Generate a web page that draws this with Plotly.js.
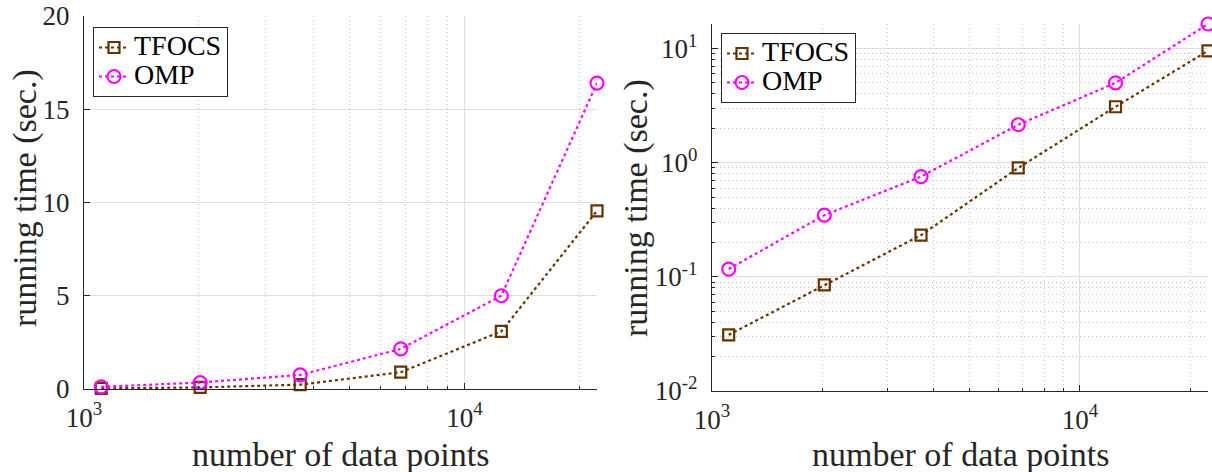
<!DOCTYPE html>
<html>
<head>
<meta charset="utf-8">
<script src="https://cdn.plot.ly/plotly-3.0.1.min.js"></script>
<style>html,body{margin:0;padding:0;background:#fff;}#chart{width:1212px;height:472px;}</style>
</head>
<body>
<div id="chart"></div>
<script>
// ---- data ----
const dataPoints = [1110, 2020, 3700, 6800, 12500, 22300];
const tfocsTime  = [0.031, 0.085, 0.232, 0.90, 3.09, 9.55];
const ompTime    = [0.117, 0.347, 0.755, 2.15, 5.0, 16.4];
const seriesNames = ['TFOCS', 'OMP'];

const xTickVals = [1000, 10000];
const xTickText = ['10<sup>3</sup>', '10<sup>4</sup>'];
const xMinorVals = [2000, 3000, 4000, 5000, 6000, 7000, 8000, 9000, 20000];
const yLinTickVals = [0, 5, 10, 15, 20];
const yLogTickVals = [0.01, 0.1, 1, 10];
const yLogTickText = ['10<sup>-2</sup>', '10<sup>-1</sup>', '10<sup>0</sup>', '10<sup>1</sup>'];
const yLogMinorVals = [0.02,0.03,0.04,0.05,0.06,0.07,0.08,0.09,0.2,0.3,0.4,0.5,0.6,0.7,0.8,0.9,2,3,4,5,6,7,8,9];
const xLabel = 'number of data points';
const yLabel = 'running time (sec.)';

// ---- styling ----
const W = 1212, H = 472;
const FONT = "'Liberation Serif', 'Times New Roman', serif";
const INK = '#262626';
const tfocsColor = '#663300';
const ompColor = '#ff00ff';
const px = v => v / W;
const py = v => 1 - v / H;
const legName = s => '<span style="font-size:28px">' + s + '</span>';

function mk(name, y, color, symbol, size, xa, ya, leg) {
  return {
    x: dataPoints, y: y, name: legName(name), type: 'scatter', mode: 'lines+markers',
    xaxis: xa, yaxis: ya, legend: leg, showlegend: true, cliponaxis: false,
    line: {color: color, width: 2.2, dash: 'dot'},
    marker: {symbol: symbol, size: size, color: color, line: {color: color, width: 2.2}}
  };
}

const traces = [
  mk(seriesNames[0], tfocsTime, tfocsColor, 'square-open', 11, 'x', 'y', 'legend'),
  mk(seriesNames[1], ompTime, ompColor, 'circle-open', 13, 'x', 'y', 'legend'),
  mk(seriesNames[0], tfocsTime, tfocsColor, 'square-open', 11, 'x2', 'y2', 'legend2'),
  mk(seriesNames[1], ompTime, ompColor, 'circle-open', 13, 'x2', 'y2', 'legend2')
];

const xmax = Math.log10(dataPoints[dataPoints.length - 1]);
const ymaxLog = Math.log10(Math.max.apply(null, ompTime));
const MINOR_GRID = '#c4c4c4';
const MAJOR_GRID = '#dedede';

function xAxis(domain, anchor) {
  return {
    type: 'log', domain: domain, anchor: anchor, range: [3, xmax],
    tickmode: 'array', tickvals: xTickVals, ticktext: xTickText,
    ticks: 'inside', ticklen: 6, tickwidth: 1, tickcolor: INK,
    showline: true, linecolor: INK, linewidth: 1.2, zeroline: false,
    showgrid: true, gridcolor: MAJOR_GRID, gridwidth: 1,
    tickfont: {family: FONT, size: 27, color: INK},
    ticklabelstandoff: 4, automargin: false,
    minor: {tickmode: 'array', tickvals: xMinorVals, ticks: 'inside', ticklen: 3,
            tickcolor: INK, showgrid: true, gridcolor: MINOR_GRID, griddash: '1px,3px', gridwidth: 1}
  };
}

const legendBase = {
  xanchor: 'left', yanchor: 'top',
  bgcolor: '#fff', bordercolor: INK, borderwidth: 1,
  font: {family: FONT, size: 20, color: '#000'}, tracegroupgap: 0
};

function xTitle(xc) {
  return {text: xLabel, xref: 'paper', yref: 'paper', x: px(xc), y: py(454), xanchor: 'center', yanchor: 'middle',
          showarrow: false, font: {family: FONT, size: 34, color: INK}};
}
function yTitle(xc, yc) {
  return {text: yLabel, xref: 'paper', yref: 'paper', x: px(xc), y: py(yc), xanchor: 'center', yanchor: 'middle',
          textangle: -90, showarrow: false, font: {family: FONT, size: 34, color: INK}};
}

const layout = {
  width: W, height: H,
  margin: {l: 0, r: 0, t: 0, b: 0},
  paper_bgcolor: '#fff', plot_bgcolor: '#fff',
  font: {family: FONT, color: INK},
  xaxis: xAxis([px(84), px(597)], 'y'),
  yaxis: {
    domain: [py(389), py(16)], anchor: 'x', range: [0, 20],
    tickmode: 'array', tickvals: yLinTickVals,
    ticks: 'inside', ticklen: 6, tickcolor: INK,
    showline: true, linecolor: INK, linewidth: 1.2, zeroline: false,
    showgrid: true, gridcolor: MAJOR_GRID,
    tickfont: {family: FONT, size: 27, color: INK},
    ticklabelstandoff: 8, automargin: false
  },
  xaxis2: xAxis([px(712), px(1208)], 'y2'),
  yaxis2: {
    type: 'log', domain: [py(391), py(24)], anchor: 'x2', range: [-2, ymaxLog],
    tickmode: 'array', tickvals: yLogTickVals, ticktext: yLogTickText,
    ticks: 'inside', ticklen: 6, tickcolor: INK,
    showline: true, linecolor: INK, linewidth: 1.2, zeroline: false,
    showgrid: true, gridcolor: MAJOR_GRID,
    tickfont: {family: FONT, size: 27, color: INK},
    ticklabelstandoff: 8, automargin: false,
    minor: {tickmode: 'array', tickvals: yLogMinorVals, ticks: 'inside', ticklen: 3,
            tickcolor: INK, showgrid: true, gridcolor: MINOR_GRID, griddash: '1px,3px', gridwidth: 1}
  },
  legend: Object.assign({x: px(93), y: py(27)}, legendBase),
  legend2: Object.assign({x: px(721), y: py(33)}, legendBase),
  annotations: [xTitle(340.5), xTitle(960), yTitle(25, 198), yTitle(636, 208)]
};

Plotly.newPlot('chart', traces, layout, {displayModeBar: false, staticPlot: true});
</script>
</body>
</html>
